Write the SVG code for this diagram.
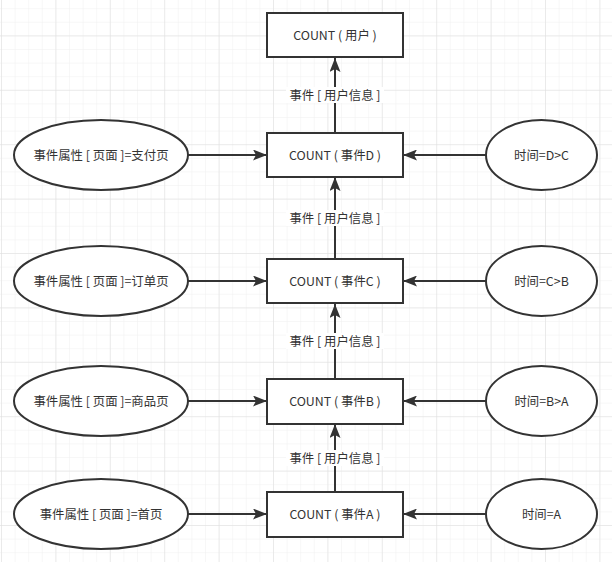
<svg xmlns="http://www.w3.org/2000/svg" width="612" height="562" viewBox="0 0 612 562">
<defs>
<pattern id="minor" x="1" y="-19" width="13.6" height="13.6" patternUnits="userSpaceOnUse">
<path d="M0 0H13.6M0 0V13.6" fill="none" stroke="#f0f0f0" stroke-width="1"/>
</pattern>
<pattern id="major" x="1" y="-19" width="54.4" height="54.4" patternUnits="userSpaceOnUse">
<path d="M0 0H54.4M0 0V54.4" fill="none" stroke="#dedede" stroke-width="1"/>
</pattern>
<marker id="arr" viewBox="0 0 14 11" refX="14" refY="5.5" markerWidth="14" markerHeight="11" markerUnits="userSpaceOnUse" orient="auto">
<path d="M0 0L14 5.5L0 11L3 5.5Z" fill="#333"/>
</marker>
</defs>
<style>
.box{fill:#fff;stroke:#333;stroke-width:2}
.ell{fill:#fff;stroke:#333;stroke-width:2}
.line{fill:none;stroke:#333;stroke-width:2;marker-end:url(#arr)}
text{font-family:"Microsoft YaHei","Noto Sans CJK SC","Noto Sans",sans-serif;font-size:12.4px;fill:#333;text-anchor:middle;dominant-baseline:central}
.lbl{fill:#fff;stroke:none}
</style>
<rect width="612" height="562" fill="#fff"/>
<rect width="612" height="562" fill="url(#minor)"/>
<rect width="612" height="562" fill="url(#major)"/>

<g id="connectors">
<path class="line" d="M335 133V58"/>
<path class="line" d="M335 258V177"/>
<path class="line" d="M335 379V304"/>
<path class="line" d="M335 492V424"/>
<path class="line" d="M188 155H267"/>
<path class="line" d="M188 281H267"/>
<path class="line" d="M188 401H267"/>
<path class="line" d="M188 514H267"/>
<path class="line" d="M486 155H403"/>
<path class="line" d="M486 281H403"/>
<path class="line" d="M486 401H403"/>
<path class="line" d="M486 514H403"/>
<rect class="lbl" x="286" y="87" width="98" height="16"/>
<text x="335" y="95">事件 [ 用户信息 ]</text>
<rect class="lbl" x="286" y="210" width="98" height="16"/>
<text x="335" y="218">事件 [ 用户信息 ]</text>
<rect class="lbl" x="286" y="333" width="98" height="16"/>
<text x="335" y="341">事件 [ 用户信息 ]</text>
<rect class="lbl" x="286" y="450" width="98" height="16"/>
<text x="335" y="458">事件 [ 用户信息 ]</text>
</g>

<g id="count-user"><rect class="box" x="267" y="13" width="136" height="44"/><text x="335" y="35">COUNT ( 用户 )</text></g>
<g id="count-d"><rect class="box" x="267" y="133" width="136" height="44"/><text x="335" y="155">COUNT ( 事件D )</text></g>
<g id="count-c"><rect class="box" x="267" y="259" width="136" height="44"/><text x="335" y="281">COUNT ( 事件C )</text></g>
<g id="count-b"><rect class="box" x="267" y="379" width="136" height="45"/><text x="335" y="401">COUNT ( 事件B )</text></g>
<g id="count-a"><rect class="box" x="267" y="492" width="136" height="45"/><text x="335" y="514">COUNT ( 事件A )</text></g>

<g id="attr-d"><ellipse class="ell" cx="101" cy="155" rx="87" ry="35"/><text x="101" y="155">事件属性 [ 页面 ]=支付页</text></g>
<g id="attr-c"><ellipse class="ell" cx="101" cy="281" rx="87" ry="35"/><text x="101" y="281">事件属性 [ 页面 ]=订单页</text></g>
<g id="attr-b"><ellipse class="ell" cx="101" cy="401" rx="87" ry="35"/><text x="101" y="401">事件属性 [ 页面 ]=商品页</text></g>
<g id="attr-a"><ellipse class="ell" cx="101" cy="514" rx="87" ry="35"/><text x="101" y="514">事件属性 [ 页面 ]=首页</text></g>

<g id="time-d"><ellipse class="ell" cx="541.5" cy="155" rx="55.5" ry="35"/><text x="541.5" y="155">时间=D&gt;C</text></g>
<g id="time-c"><ellipse class="ell" cx="541.5" cy="281" rx="55.5" ry="35"/><text x="541.5" y="281">时间=C&gt;B</text></g>
<g id="time-b"><ellipse class="ell" cx="541.5" cy="401" rx="55.5" ry="35"/><text x="541.5" y="401">时间=B&gt;A</text></g>
<g id="time-a"><ellipse class="ell" cx="541.5" cy="514" rx="55.5" ry="35"/><text x="541.5" y="514">时间=A</text></g>
</svg>
